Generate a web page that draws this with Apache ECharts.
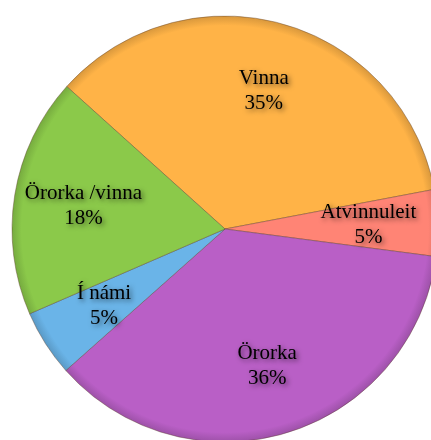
<!DOCTYPE html>
<html>
<head>
<meta charset="utf-8">
<script src="https://cdn.jsdelivr.net/npm/echarts@6/dist/echarts.min.js"></script>
<style>
  html, body { margin: 0; padding: 0; background: #fff; }
  #main { width: 431px; height: 440px; }
</style>
</head>
<body>
<div id="main"></div>
<script>
// flokkar og hlutfall (%)
const categories = ["Vinna", "Atvinnuleit", "Örorka", "Í námi", "Örorka /vinna"];
const percents = [35, 5, 36, 5, 18];
const colors = ["#FFB347", "#FF8475", "#B95FC6", "#6AB4E8", "#8BC94A"];

const CX = 225, CY = 229, R = 213;

function darker(hex, f) {
  const n = parseInt(hex.slice(1), 16);
  const r = Math.round(((n >> 16) & 255) * f);
  const g = Math.round(((n >> 8) & 255) * f);
  const b = Math.round((n & 255) * f);
  return "rgb(" + r + "," + g + "," + b + ")";
}

function shade(c) {
  // flat colour, a bit darker right at the rim
  return new echarts.graphic.RadialGradient(CX, CY, R, [
    { offset: 0, color: c },
    { offset: 0.955, color: c },
    { offset: 1, color: darker(c, 0.85) }
  ], true);
}

const chart = echarts.init(document.getElementById("main"));

const pieData = categories.map((name, i) => ({
  name: name,
  value: percents[i],
  itemStyle: { color: shade(colors[i]) }
}));

const labelData = categories.map((name, i) => ({
  name: name,
  value: percents[i]
}));

chart.setOption({
  animation: false,
  series: [
    {
      type: "pie",
      center: [CX, CY],
      radius: [0, R],
      startAngle: 138,
      clockwise: true,
      label: { show: false },
      labelLine: { show: false },
      itemStyle: {
        borderColor: "rgba(90,60,40,0.5)",
        borderWidth: 0.8
      },
      emphasis: { disabled: true },
      data: pieData
    },
    {
      // gegnsæ sería sem ber bara merkin
      type: "pie",
      center: [CX, CY],
      radius: [68, R],
      startAngle: 138,
      clockwise: true,
      silent: true,
      itemStyle: { color: "transparent", borderWidth: 0 },
      label: {
        show: true,
        position: "inside",
        formatter: p => p.name + "\n" + p.value + "%",
        fontFamily: "Liberation Serif",
        fontSize: 21,
        lineHeight: 25,
        color: "#000",
        textBorderWidth: 0,
        textShadowColor: "rgba(0,0,0,0.6)",
        textShadowBlur: 5,
        textShadowOffsetX: 2,
        textShadowOffsetY: 2
      },
      labelLine: { show: false },
      emphasis: { disabled: true },
      data: labelData
    }
  ]
});
</script>
</body>
</html>
